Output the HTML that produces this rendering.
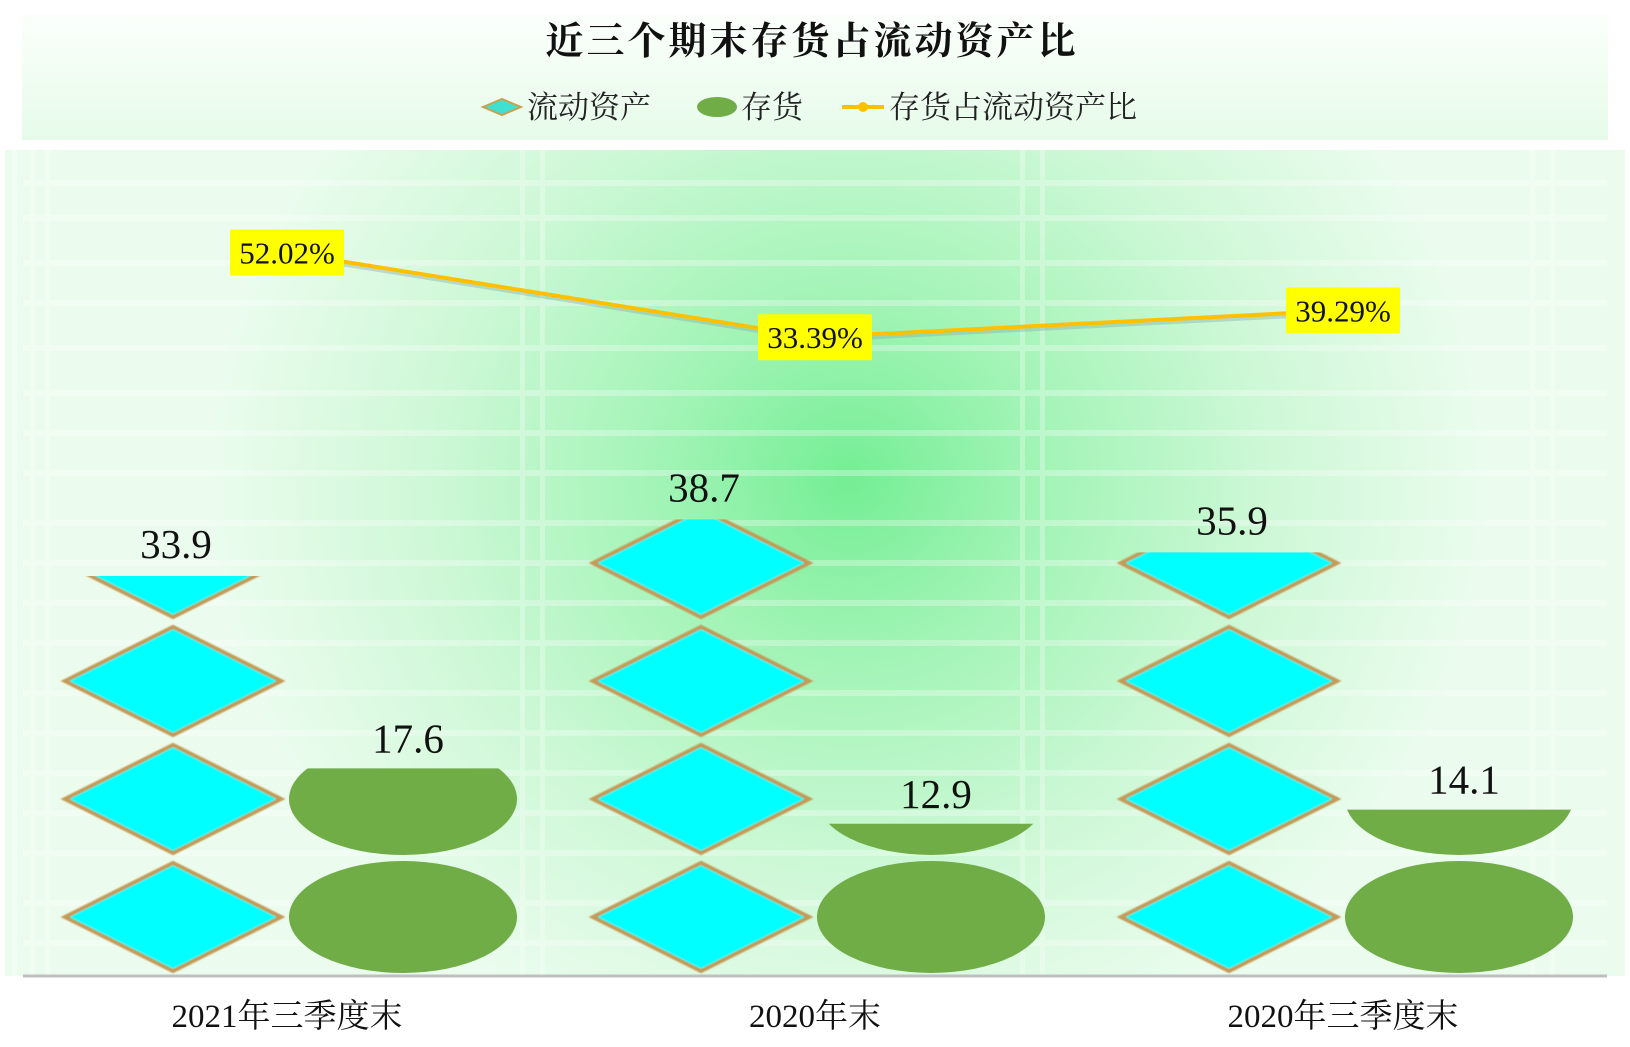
<!DOCTYPE html>
<html><head><meta charset="utf-8"><style>
html,body{margin:0;padding:0;background:#fff;}
svg{display:block;font-family:"Liberation Serif","Noto Serif CJK SC","Noto Sans CJK SC",serif;}
</style></head><body>
<svg id="chart" width="1630" height="1047" viewBox="0 0 1630 1047" xmlns="http://www.w3.org/2000/svg">
<defs>
<radialGradient id="bg" cx="850" cy="480" r="800" gradientUnits="userSpaceOnUse" gradientTransform="translate(850 480) scale(0.8 0.75) translate(-850 -480)">
<stop offset="0" stop-color="#74ee94"/><stop offset="0.3" stop-color="#a2f4b6"/><stop offset="0.65" stop-color="#cdf8d6"/><stop offset="1" stop-color="#ebfcee"/>
</radialGradient>
<linearGradient id="topbg" x1="0" y1="0" x2="0" y2="1"><stop offset="0" stop-color="#fbfffb"/><stop offset="1" stop-color="#e6fbe9"/></linearGradient>
<filter id="soft"><feGaussianBlur stdDeviation="0.8"/></filter>
</defs>
<rect x="0" y="0" width="1630" height="1047" fill="#ffffff"/>
<rect x="22" y="15" width="1586" height="125" fill="url(#topbg)"/>
<rect x="5" y="150" width="1620" height="826" fill="url(#bg)"/>
<g id="stripes" opacity="0.3"></g>
<text x="812" y="54" text-anchor="middle" font-size="38" font-weight="bold" fill="#111" letter-spacing="3">近三个期末存货占流动资产比</text>
<g>
<g>
<polygon points="483,107 502,99 521,107 502,115" fill="#40e0d0" stroke="#c8a050" stroke-width="2"/>
<text x="527" y="118" font-size="31" fill="#222">流动资产</text></g>
<g>
<ellipse cx="717" cy="107" rx="20" ry="10" fill="#70ad47"/>
<text x="741" y="118" font-size="31" fill="#222">存货</text></g>
<g>
<line x1="842" y1="107" x2="884" y2="107" stroke="#ffc000" stroke-width="4"/><circle cx="863" cy="107" r="5" fill="#ffc000"/>
<text x="889" y="118" font-size="31" fill="#222">存货占流动资产比</text></g>
</g>
<g id="marks"></g>
<line x1="23" y1="976" x2="1607" y2="976" stroke="#bfbfbf" stroke-width="3"/>
</svg>
<script>
const categories = ["2021年三季度末", "2020年末", "2020年三季度末"];
const currentAssets = [33.9, 38.7, 35.9];
const inventory = [17.6, 12.9, 14.1];
const ratio = [52.02, 33.39, 39.29];
const ratioLabels = ["52.02%", "33.39%", "39.29%"];

const NS = "http://www.w3.org/2000/svg";
const plotL = 23, plotR = 1607, plotT = 150, plotB = 976;
const yMax = 70, unit = 10;
const rMin = -107.2, rMax = 74.6;
const catW = (plotR - plotL) / categories.length;
function xCat(i){ return plotL + catW * (i + 0.5); }
function y(v){ return plotB - v / yMax * (plotB - plotT); }
function yR(p){ return plotB - (p - rMin) / (rMax - rMin) * (plotB - plotT); }
function el(tag, attrs, parent){ const e = document.createElementNS(NS, tag); for (const k in attrs) e.setAttribute(k, attrs[k]); parent.appendChild(e); return e; }

const svg = document.getElementById("chart");
const defs = svg.querySelector("defs");
const marks = document.getElementById("marks");
const stripes = document.getElementById("stripes");
[180,215,260,300,345,390,430,470,520,560,600,640,690,730,770,810,850,900,940].forEach(function(yy){
  const s = el("rect", {x:plotL, y:yy, width:plotR-plotL, height:6, fill:"#ffffff"}, stripes);
  
  
});
[12,30,45,520,540,1020,1040,1530,1550].forEach(function(xx){
  const s = el("rect", {x:xx, y:plotT, width:5, height:plotB-plotT, fill:"#ffffff"}, stripes);
  
  
});

const dW = 222, dOff = -114, eW = 232, eOff = 116;
categories.forEach(function(c, i){
  const cx = xCat(i);
  const dx = cx + dOff;
  const cpA = el("clipPath", {id:"clipA"+i}, defs);
  el("rect", {x:dx - dW/2 - 5, y:y(currentAssets[i]), width:dW + 10, height:plotB - y(currentAssets[i])}, cpA);
  const gA = el("g", {"clip-path":"url(#clipA"+i+")", filter:"url(#soft)"}, marks);
  
  
  const nA = Math.ceil(currentAssets[i] / unit);
  for (let k = 0; k < nA; k++){
    const yb = y(k*unit), yt = y((k+1)*unit), ym = (yb+yt)/2;
    const p = el("polygon", {points:(dx-dW/2+3)+","+ym+" "+dx+","+(yt+5)+" "+(dx+dW/2-3)+","+ym+" "+dx+","+(yb-5), fill:"#00ffff", stroke:"#c49a55", "stroke-width":4}, gA);
    
    
  }
  const tA = el("text", {x:dx + 3, y:y(currentAssets[i]) - 18, "text-anchor":"middle", "font-size":41, fill:"#111"}, marks);
  
  
  tA.textContent = currentAssets[i];
  const ex = cx + eOff;
  const cpB = el("clipPath", {id:"clipB"+i}, defs);
  el("rect", {x:ex - eW/2 - 5, y:y(inventory[i]), width:eW + 10, height:plotB - y(inventory[i])}, cpB);
  const gB = el("g", {"clip-path":"url(#clipB"+i+")"}, marks);
  
  
  const nB = Math.ceil(inventory[i] / unit);
  for (let k = 0; k < nB; k++){
    const yb = y(k*unit), yt = y((k+1)*unit);
    const e = el("ellipse", {cx:ex, cy:(yb+yt)/2, rx:eW/2 - 2, ry:(yb-yt)/2 - 3, fill:"#70ad47"}, gB);
    
    
  }
  const tB = el("text", {x:ex + 5, y:y(inventory[i]) - 16, "text-anchor":"middle", "font-size":41, fill:"#111"}, marks);
  
  
  tB.textContent = inventory[i];
  const tc = el("text", {x:cx, y:1027, "text-anchor":"middle", "font-size":33, fill:"#111"}, marks);
  
  
  tc.textContent = c;
});

const pts = ratio.map(function(p, i){ return xCat(i) + "," + yR(p); }).join(" ");
const shadow = el("polyline", {points:pts, fill:"none", stroke:"#8aa", "stroke-width":4, opacity:0.4, transform:"translate(1 3)"}, marks);


const line = el("polyline", {points:pts, fill:"none", stroke:"#ffc000", "stroke-width":4}, marks);


ratio.forEach(function(p, i){
  const x = xCat(i), yy = yR(p);
  const r = el("rect", {x:x - 57, y:yy - 23, width:114, height:46, fill:"#ffff00"}, marks);
  
  
  const t = el("text", {x:x, y:yy + 11, "text-anchor":"middle", "font-size":31, fill:"#111"}, marks);
  
  
  t.textContent = ratioLabels[i];
});
</script>
</body></html>
